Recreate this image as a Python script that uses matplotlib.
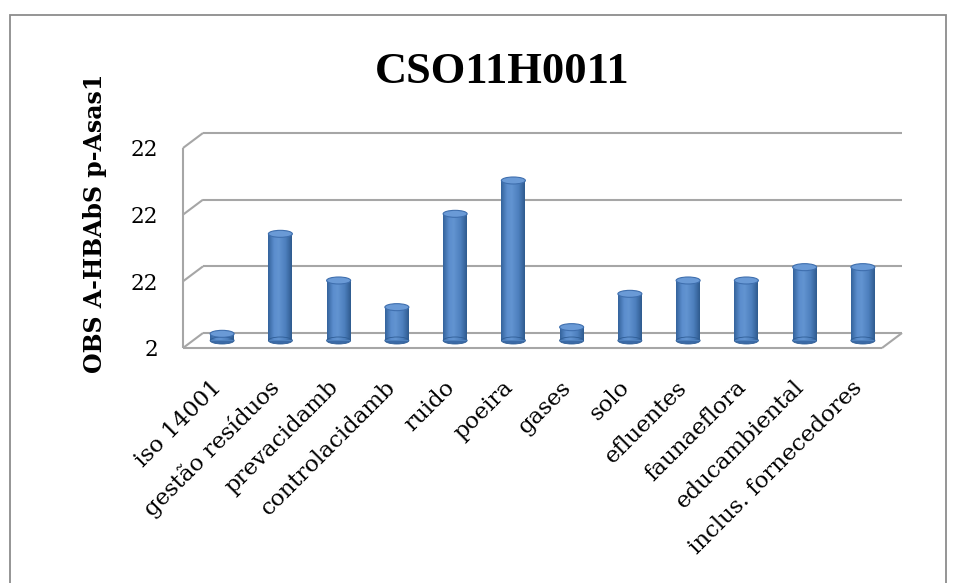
import numpy as np
import matplotlib
matplotlib.use("Agg")
import matplotlib.pyplot as plt
from matplotlib.patches import Ellipse, Rectangle
from matplotlib.colors import LinearSegmentedColormap
from matplotlib.transforms import ScaledTranslation

# ---- data ----
categories = ["iso 14001", "gestão resíduos", "prevacidamb", "controlacidamb",
              "ruido", "poeira", "gases", "solo", "efluentes", "faunaeflora",
              "educambiental", "inclus. fornecedores"]
values = [1, 16, 9, 5, 19, 24, 2, 7, 9, 9, 11, 11]
y_ticks = [0, 10, 20, 30]
y_tick_labels = ["2", "22", "22", "22"]
title_text = "CSO11H0011"
y_label_text = "OBS A-HBAbS p-Asas1"

# ---- figure / axes (front plane of the 3-D box) ----
W, H = 955, 583
fig = plt.figure(figsize=(W / 100, H / 100), dpi=100)
fig.patch.set_facecolor("white")

left_px, right_px, top_px, bottom_px = 183, 882, 148, 348
ax = fig.add_axes([left_px / W, (H - bottom_px) / H,
                   (right_px - left_px) / W, (bottom_px - top_px) / H])
xmin, xmax = -0.5, len(categories) - 0.5
ymin, ymax = y_ticks[0], y_ticks[-1]
ax.set_xlim(xmin, xmax)
ax.set_ylim(ymin, ymax)
for s in ax.spines.values():
    s.set_visible(False)
ax.patch.set_alpha(0)

# pixel -> data conversion for the depth offset of the box
ppx = (right_px - left_px) / (xmax - xmin)
ppy = (bottom_px - top_px) / (ymax - ymin)
ddx = 20 / ppx
ddy = 15 / ppy

grid_color = "#a6a6a6"
glw = 1.5
line_kw = dict(color=grid_color, lw=glw, clip_on=False, zorder=1,
               solid_capstyle="butt")

# back wall gridlines + side wall diagonals
for v in y_ticks:
    ax.plot([xmin + ddx, xmax + ddx], [v + ddy, v + ddy], **line_kw)
    ax.plot([xmin, xmin + ddx], [v, v + ddy], **line_kw)
# front vertical axis, floor front edge and right floor edge
ax.plot([xmin, xmin], [ymin, ymax], **line_kw)
ax.plot([xmin, xmax], [0, 0], **line_kw)
ax.plot([xmax, xmax + ddx], [0, ddy], **line_kw)

# ---- cylinders ----
xs = np.arange(len(categories)) + ddx / 2
base = ddy / 2
bw = 24 / ppx
eh = 7 / ppy

body_cmap = LinearSegmentedColormap.from_list(
    "cyl", [(0.0, "#34639c"), (0.25, "#5b8dcd"), (0.45, "#6294d1"),
            (0.75, "#4c7ebc"), (1.0, "#2f5b8f")])
grad = np.linspace(0, 1, 64).reshape(1, -1)

bars = ax.bar(xs, values, width=bw, bottom=base, color="#4f81bd",
              zorder=3, clip_on=False)
for x, v, rect in zip(xs, values, bars):
    ax.add_patch(Ellipse((x, base), bw, eh, facecolor="#3b6aa6",
                         edgecolor="none", zorder=2.9, clip_on=False))
    im = ax.imshow(grad, cmap=body_cmap, aspect="auto",
                   extent=(x - bw / 2, x + bw / 2, base, base + v),
                   zorder=3.2, interpolation="bilinear")
    im.set_clip_path(rect)
    ax.add_patch(Ellipse((x, base), bw, eh, facecolor="none",
                         edgecolor="#2f5d95", lw=0.6, zorder=3.3,
                         clip_on=False))
    ax.add_patch(Ellipse((x, base + v), bw, eh, facecolor="#6a9ad6",
                         edgecolor="#3f6fae", lw=0.8, zorder=4,
                         clip_on=False))

ax.set_xlim(xmin, xmax)
ax.set_ylim(ymin, ymax)

# ---- tick labels ----
ax.set_xticks(np.arange(len(categories)))
ax.set_xticklabels(categories, fontfamily="DejaVu Serif", fontsize=16.5)
ax.tick_params(axis="x", length=0, pad=26)
shift = ScaledTranslation(6 / 100, 0, fig.dpi_scale_trans)
for lbl in ax.get_xticklabels():
    lbl.set_rotation(45)
    lbl.set_rotation_mode("anchor")
    lbl.set_ha("right")
    lbl.set_va("center")
    lbl.set_transform(lbl.get_transform() + shift)

ax.set_yticks(y_ticks)
ax.set_yticklabels(y_tick_labels, fontfamily="DejaVu Serif", fontsize=15.5)
ax.tick_params(axis="y", length=0, pad=18)

# ---- titles ----
fig.text(502 / W, 1 - 83 / H, title_text, ha="center", va="baseline",
         fontfamily="Liberation Serif", fontweight="bold", fontsize=32)
fig.text(95 / W, 1 - 223 / H, y_label_text, ha="center", va="center",
         rotation=90, fontfamily="DejaVu Serif", fontweight="bold",
         fontsize=17)

# ---- chart border ----
fig.add_artist(Rectangle((10 / W, -0.05), (946 - 10) / W, (H - 15) / H + 0.05,
                         transform=fig.transFigure, fill=False,
                         edgecolor="#8c8c8c", lw=1.3))

fig.savefig("out.png", dpi=100)
